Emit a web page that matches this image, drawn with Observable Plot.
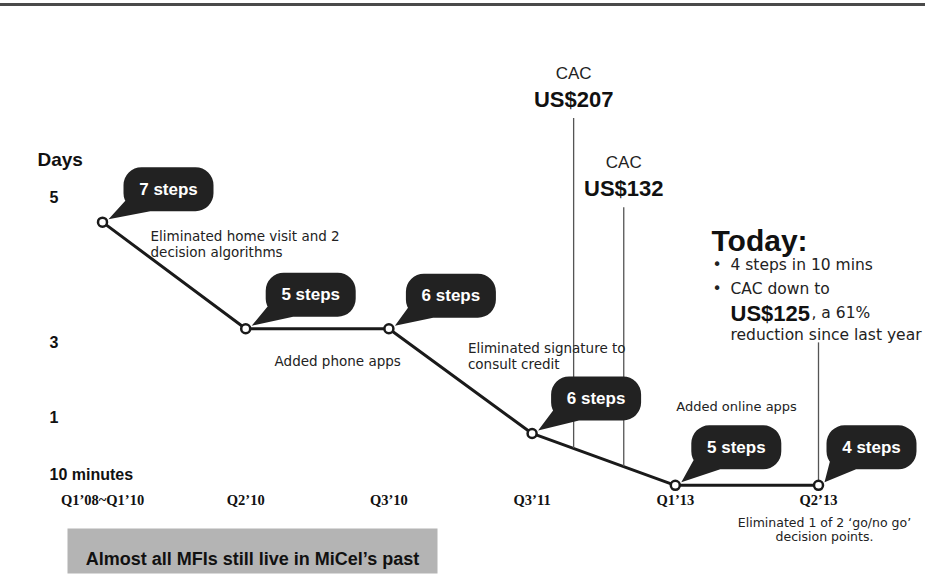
<!DOCTYPE html>
<html>
<head>
<meta charset="utf-8">
<script src="https://cdn.jsdelivr.net/npm/d3@7"></script>
<script src="https://cdn.jsdelivr.net/npm/@observablehq/plot@0.6"></script>
<style>
  html, body { margin: 0; padding: 0; background: #fff; }
  #wrap { position: relative; width: 925px; height: 579px; overflow: hidden; }
  #rule { position: absolute; left: 0; top: 3px; width: 925px; height: 3px; background: #4a4a4a; }
</style>
</head>
<body>
<div id="wrap"><div id="rule"></div><div id="chart"></div></div>
<script>
// ---------------- DATA ----------------
const categories = ["Q1’08~Q1’10", "Q2’10", "Q3’10", "Q3’11", "Q1’13", "Q2’13"];
// time to process a loan, read against the y labels (days; "10 minutes" label = 0)
const days = [4.66, 3.19, 3.19, 0.72, -0.19, -0.19];
const stepLabels = ["7 steps", "5 steps", "6 steps", "6 steps", "5 steps", "4 steps"];
const yTickValues = [5, 3, 1, 0];
const yTickLabels = ["5", "3", "1", "10 minutes"];
const yTitle = "Days";
const notes = [
  "Eliminated home visit and 2\ndecision algorithms",
  "Added phone apps",
  "Eliminated signature to\nconsult credit",
  "Added online apps",
  "Eliminated 1 of 2 ‘go/no go’\ndecision points."
];
const noteAt = [0, 1, 2, 4, 5];
const cacValues = ["US$207", "US$132"];
const cacAt = [3.29, 3.64];           // position along the timeline (category index)
const todayTitle = "Today:";
const todayBullets = ["4 steps in 10 mins", "CAC down to"];
const todayValue = "US$125";
const todayValueRest = ", a 61%";
const todayLast = "reduction since last year";
const caption = "Almost all MFIs still live in MiCel’s past";

// ---------------- BUILD ----------------
const pts = categories.map((c, i) => ({i, cat: c, days: days[i], steps: stepLabels[i]}));
function yAt(xi) {
  const i0 = Math.min(Math.floor(xi), days.length - 2);
  const t = xi - i0;
  return days[i0] + t * (days[i0 + 1] - days[i0]);
}
// leader lines (layout: top of each leader in y units)
const leaderTop = [6.09, 4.86, 2.99];
const leaders = [
  {x: cacAt[0], top: leaderTop[0], label: cacValues[0]},
  {x: cacAt[1], top: leaderTop[1], label: cacValues[1]},
  {x: categories.length - 1, top: leaderTop[2], label: null}
];

function bubbleSymbol(ox, oy, w, h, r) {
  return {
    draw(ctx) {
      const x0 = ox - w / 2, x1 = ox + w / 2, y0 = oy - h / 2, y1 = oy + h / 2;
      ctx.moveTo(x0 + r, y0);
      ctx.lineTo(x1 - r, y0);
      ctx.arcTo(x1, y0, x1, y0 + r, r);
      ctx.lineTo(x1, y1 - r);
      ctx.arcTo(x1, y1, x1 - r, y1, r);
      ctx.lineTo(x0 + r, y1);
      ctx.arcTo(x0, y1, x0, y1 - r, r);
      ctx.lineTo(x0, y0 + r);
      ctx.arcTo(x0, y0, x0 + r, y0, r);
      ctx.closePath();
      // tail pointing to the marker (same winding as the box)
      ctx.moveTo(x0 + 5, y1 - 14);
      ctx.lineTo(x0 + 32, y1 - 1);
      ctx.lineTo(6, -3);
      ctx.closePath();
    }
  };
}
function rectSymbol(w, h) {
  return { draw(ctx) { ctx.rect(-w / 2, -h / 2, w, h); } };
}

const bubbleOffsets = [[66, -33], [65, -34], [62, -33], [64, -35], [61, -38], [53, -38]];
const noteLayout = [
  {dx: 48, dy: 22, anchor: "start", size: 13.5},
  {dx: 92, dy: 32, anchor: "middle", size: 13.5},
  {dx: 79, dy: 27, anchor: "start", size: 13.5},
  {dx: 1, dy: -79, anchor: "start", size: 13},
  {dx: 6, dy: 44, anchor: "middle", size: 12.5}
];

const SANS = "Liberation Sans, Arial, Helvetica, sans-serif";
const DJ = "DejaVu Sans, Verdana, sans-serif";
const ink = "#1a1a1a";

const marks = [];
// main line
marks.push(Plot.line(pts, {x: "i", y: "days", stroke: ink, strokeWidth: 3}));
// CAC leader lines
marks.push(Plot.ruleX(leaders, {x: "x", y1: "top", y2: d => yAt(d.x), stroke: "#555", strokeWidth: 1.3}));
// bubbles
pts.forEach((p, k) => {
  const [ox, oy] = bubbleOffsets[k];
  marks.push(Plot.dot([p], {x: "i", y: "days", r: 5, symbol: bubbleSymbol(ox, oy, 90, 44, 18), fill: "#222", stroke: "none"}));
  marks.push(Plot.text([p], {x: "i", y: "days", text: "steps", dx: ox, dy: oy, fill: "white", fontWeight: "bold", fontSize: 17, fontFamily: SANS}));
});
// markers
marks.push(Plot.dot(pts, {x: "i", y: "days", r: 4.5, fill: "white", stroke: ink, strokeWidth: 2.5}));
// annotations
notes.forEach((t, k) => {
  const L = noteLayout[k];
  marks.push(Plot.text([pts[noteAt[k]]], {x: "i", y: "days", text: () => t, dx: L.dx, dy: L.dy, textAnchor: L.anchor, lineAnchor: "middle", lineHeight: 1.17, fontSize: L.size, fontFamily: DJ, fill: "#222"}));
});
// CAC labels
const cacLeaders = leaders.filter(d => d.label);
marks.push(Plot.text(cacLeaders, {x: "x", y: "top", text: () => "CAC", dy: -45, fontSize: 17, fontFamily: SANS, fill: "#222"}));
marks.push(Plot.text(cacLeaders, {x: "x", y: "top", text: "label", dy: -19, fontSize: 22, fontWeight: "bold", fontFamily: SANS, fill: "#111"}));
// y tick labels + title
marks.push(Plot.text(yTickValues, {y: d => d, text: (d, i) => yTickLabels[i], frameAnchor: "left", dx: 49, textAnchor: "start", fontWeight: "bold", fontSize: 16, fontFamily: SANS, fill: "#111"}));
marks.push(Plot.text([yTitle], {frameAnchor: "top-left", dx: 37, dy: 152, textAnchor: "start", fontWeight: "bold", fontSize: 19, fontFamily: SANS, fill: "#111"}));
// x axis
marks.push(Plot.axisX({ticks: d3.range(categories.length), tickFormat: i => categories[i], tickSize: 0, tickPadding: 6, label: null, anchor: "bottom", fontFamily: "Liberation Serif, Times New Roman, serif", fontWeight: "bold", fontSize: 14.5, fill: "#111"}));
// Today block
marks.push(Plot.text([todayTitle], {frameAnchor: "top-left", dx: 711, dy: 229, textAnchor: "start", fontWeight: "bold", fontSize: 30, fontFamily: SANS, fill: "#111"}));
todayBullets.forEach((t, k) => {
  marks.push(Plot.text([t], {frameAnchor: "top-left", dx: 712, dy: 258 + 24 * k, text: () => "•", textAnchor: "start", fontSize: 15.5, fontFamily: DJ, fill: "#222"}));
  marks.push(Plot.text([t], {frameAnchor: "top-left", dx: 730, dy: 258 + 24 * k, textAnchor: "start", fontSize: 15.5, fontFamily: DJ, fill: "#222"}));
});
marks.push(Plot.text([todayValue], {frameAnchor: "top-left", dx: 730, dy: 305, textAnchor: "start", fontWeight: "bold", fontSize: 22, fontFamily: SANS, fill: "#111"}));
marks.push(Plot.text([todayValueRest], {frameAnchor: "top-left", dx: 811, dy: 306, textAnchor: "start", fontSize: 15.5, fontFamily: DJ, fill: "#222"}));
marks.push(Plot.text([todayLast], {frameAnchor: "top-left", dx: 730, dy: 328, textAnchor: "start", fontSize: 15.5, fontFamily: DJ, fill: "#222"}));
// caption box
marks.push(Plot.dot([caption], {frameAnchor: "top-left", dx: 252, dy: 550.5, symbol: rectSymbol(370, 45), fill: "#b4b4b4", stroke: "none"}));
marks.push(Plot.text([caption], {frameAnchor: "top-left", dx: 252, dy: 552, textAnchor: "middle", fontWeight: "bold", fontSize: 18, fontFamily: SANS, fill: "#111"}));

const chart = Plot.plot({
  width: 925,
  height: 579,
  marginTop: 0, marginRight: 0, marginBottom: 91, marginLeft: 0,
  style: {background: "white", fontFamily: SANS, overflow: "visible"},
  x: {type: "linear", domain: [0, categories.length - 1], range: [102, 818], label: null},
  y: {type: "linear", domain: [0, 1, 3, 5], range: [474, 417, 342, 197], axis: null, label: null},
  marks
});
document.getElementById("chart").appendChild(chart);
</script>
</body>
</html>
